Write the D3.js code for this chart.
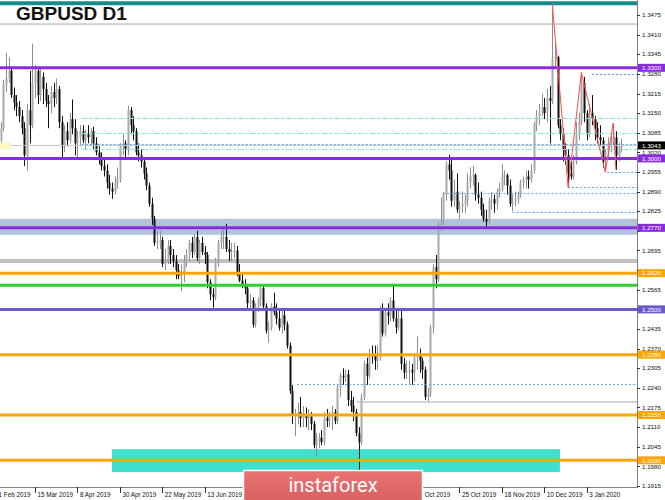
<!DOCTYPE html>
<html><head><meta charset="utf-8">
<script src="https://cdn.jsdelivr.net/npm/d3@7/dist/d3.min.js"></script>
<style>
html,body{margin:0;padding:0;background:#fff;}
svg{display:block;}
</style></head><body>
<svg id="c" width="665" height="500"></svg>
<script>
// ---------- DATA ----------
const firstIndex = 3; // bar index of first candle (index 0 = 21 Feb 2019)
const opens = [
1.3060,1.3100,1.3245,1.3265,1.3290,1.3210,1.3185,1.3170,1.3140,1.3100,
1.3010,1.3160,1.3110,1.3250,1.3290,1.3210,1.3270,1.3230,1.3190,1.3180,
1.3220,1.3200,1.3230,1.3120,1.3040,1.3090,1.3060,1.3130,1.3100,1.3050,
1.3070,1.3090,1.3060,1.3080,1.3070,1.3090,1.3050,1.3020,1.3000,1.2975,
1.2960,1.2920,1.2900,1.2890,1.2920,1.2930,1.3040,1.3050,1.3030,1.3160,
1.3110,1.3090,1.3020,1.3010,1.2990,1.2950,1.2910,1.2850,1.2800,1.2720,
1.2720,1.2730,1.2650,1.2660,1.2710,1.2680,1.2660,1.2630,1.2610,1.2620,
1.2660,1.2680,1.2720,1.2690,1.2740,1.2670,1.2720,1.2690,1.2680,1.2590,
1.2550,1.2540,1.2660,1.2720,1.2740,1.2740,1.2700,1.2690,1.2690,1.2695,
1.2620,1.2595,1.2580,1.2570,1.2520,1.2530,1.2450,1.2510,1.2530,1.2570,
1.2510,1.2430,1.2440,1.2510,1.2490,1.2470,1.2440,1.2480,1.2450,1.2380,
1.2230,1.2150,1.2155,1.2160,1.2140,1.2150,1.2140,1.2145,1.2120,1.2050,
1.2070,1.2075,1.2060,1.2140,1.2130,1.2150,1.2160,1.2130,1.2240,1.2280,
1.2275,1.2285,1.2200,1.2180,1.2160,1.2090,1.2060,1.2210,1.2320,1.2280,
1.2350,1.2345,1.2330,1.2340,1.2500,1.2420,1.2490,1.2480,1.2530,1.2470,
1.2440,1.2470,1.2320,1.2290,1.2295,1.2300,1.2290,1.2340,1.2350,1.2330,
1.2300,1.2210,1.2220,1.2440,1.2640,1.2600,1.2770,1.2790,1.2880,1.2980,
1.2960,1.2860,1.2890,1.2830,1.2840,1.2850,1.2860,1.2920,1.2940,1.2945,
1.2880,1.2870,1.2830,1.2800,1.2790,1.2860,1.2865,1.2850,1.2890,1.2900,
1.2940,1.2945,1.2910,1.2850,1.2860,1.2865,1.2880,1.2920,1.2930,1.2940,
1.2930,1.2960,1.3110,1.3140,1.3150,1.3170,1.3150,1.3200,1.3190,1.3330,
1.3335,1.3110,1.3080,1.3030,1.3010,1.2950,1.2940,1.2990,1.3080,1.3120,
1.3250,1.3150,1.3080,1.3150,1.3130,1.3100,1.3070,1.3060,1.2990,1.3020,
1.3040,1.3060,1.3070,1.3010,1.3040];
const highs = [
1.3120,1.3260,1.3350,1.3335,1.3300,1.3235,1.3210,1.3190,1.3160,1.3120,
1.3180,1.3290,1.3380,1.3310,1.3300,1.3300,1.3285,1.3250,1.3210,1.3240,
1.3250,1.3265,1.3240,1.3140,1.3110,1.3120,1.3150,1.3195,1.3130,1.3090,
1.3110,1.3110,1.3095,1.3110,1.3100,1.3105,1.3070,1.3040,1.3020,1.3000,
1.2980,1.2945,1.2920,1.2940,1.2970,1.3050,1.3080,1.3060,1.3175,1.3170,
1.3140,1.3100,1.3050,1.3030,1.3000,1.2970,1.2920,1.2870,1.2810,1.2760,
1.2760,1.2740,1.2700,1.2730,1.2730,1.2700,1.2680,1.2650,1.2650,1.2680,
1.2700,1.2730,1.2740,1.2750,1.2760,1.2730,1.2740,1.2710,1.2690,1.2600,
1.2570,1.2670,1.2730,1.2760,1.2770,1.2783,1.2730,1.2720,1.2720,1.2710,
1.2650,1.2620,1.2600,1.2580,1.2550,1.2540,1.2520,1.2540,1.2580,1.2580,
1.2520,1.2460,1.2520,1.2555,1.2520,1.2500,1.2500,1.2500,1.2460,1.2390,
1.2250,1.2170,1.2190,1.2210,1.2180,1.2175,1.2170,1.2160,1.2130,1.2090,
1.2090,1.2100,1.2160,1.2170,1.2160,1.2180,1.2170,1.2250,1.2290,1.2305,
1.2300,1.2300,1.2230,1.2210,1.2170,1.2110,1.2220,1.2330,1.2340,1.2370,
1.2380,1.2380,1.2380,1.2510,1.2520,1.2500,1.2520,1.2540,1.2582,1.2500,
1.2500,1.2500,1.2340,1.2330,1.2330,1.2320,1.2350,1.2410,1.2370,1.2340,
1.2310,1.2240,1.2450,1.2650,1.2680,1.2790,1.2870,1.2890,1.2990,1.3012,
1.3000,1.2930,1.2950,1.2860,1.2890,1.2880,1.2950,1.2970,1.2975,1.2950,
1.2920,1.2890,1.2850,1.2830,1.2870,1.2890,1.2880,1.2900,1.2920,1.2980,
1.2960,1.2950,1.2930,1.2880,1.2890,1.2890,1.2930,1.2940,1.2960,1.2960,
1.2980,1.3120,1.3160,1.3180,1.3215,1.3200,1.3230,1.3240,1.3514,1.3380,
1.3340,1.3130,1.3100,1.3050,1.3030,1.2990,1.3010,1.3120,1.3150,1.3284,
1.3270,1.3160,1.3180,1.3210,1.3140,1.3120,1.3110,1.3070,1.3030,1.3070,
1.3080,1.3117,1.3090,1.3050,1.3065];
const lows = [
1.3040,1.3090,1.3220,1.3250,1.3200,1.3160,1.3140,1.3120,1.3080,1.2975,
1.2960,1.3050,1.3100,1.3200,1.3180,1.3190,1.3180,1.3170,1.3100,1.3150,
1.3170,1.3180,1.3100,1.3000,1.3020,1.3040,1.3050,1.3080,1.3010,1.2995,
1.3040,1.3050,1.3030,1.3050,1.3040,1.3030,1.3010,1.2980,1.2960,1.2940,
1.2900,1.2880,1.2866,1.2880,1.2900,1.2920,1.3010,1.3000,1.3010,1.3080,
1.3060,1.3010,1.2990,1.2970,1.2930,1.2895,1.2840,1.2780,1.2710,1.2700,
1.2700,1.2640,1.2630,1.2650,1.2650,1.2640,1.2600,1.2600,1.2560,1.2590,
1.2640,1.2660,1.2670,1.2680,1.2660,1.2650,1.2680,1.2650,1.2570,1.2530,
1.2506,1.2530,1.2640,1.2700,1.2700,1.2690,1.2660,1.2660,1.2670,1.2610,
1.2590,1.2570,1.2550,1.2500,1.2500,1.2440,1.2440,1.2490,1.2510,1.2500,
1.2420,1.2390,1.2430,1.2480,1.2450,1.2430,1.2420,1.2430,1.2370,1.2220,
1.2120,1.2080,1.2120,1.2110,1.2110,1.2110,1.2100,1.2100,1.2040,1.2015,
1.2040,1.2050,1.2050,1.2110,1.2110,1.2100,1.2120,1.2120,1.2210,1.2250,
1.2260,1.2180,1.2160,1.2130,1.2080,1.1958,1.2050,1.2200,1.2250,1.2270,
1.2320,1.2300,1.2300,1.2330,1.2410,1.2410,1.2450,1.2460,1.2460,1.2420,
1.2430,1.2300,1.2270,1.2270,1.2250,1.2250,1.2260,1.2300,1.2290,1.2270,
1.2200,1.2195,1.2210,1.2420,1.2570,1.2590,1.2760,1.2780,1.2860,1.2930,
1.2840,1.2840,1.2820,1.2800,1.2820,1.2820,1.2840,1.2900,1.2910,1.2860,
1.2850,1.2810,1.2790,1.2770,1.2780,1.2830,1.2820,1.2830,1.2870,1.2890,
1.2910,1.2880,1.2840,1.2825,1.2840,1.2850,1.2870,1.2900,1.2900,1.2900,
1.2920,1.2950,1.3090,1.3110,1.3140,1.3130,1.3120,1.3050,1.3180,1.3300,
1.3100,1.3060,1.2990,1.2980,1.2904,1.2930,1.2930,1.2980,1.3060,1.3110,
1.3120,1.3060,1.3070,1.3110,1.3060,1.3050,1.3040,1.2970,1.2955,1.3000,
1.3020,1.3040,1.2962,1.2990,1.3020];
const closes = [
1.3100,1.3245,1.3265,1.3290,1.3210,1.3185,1.3170,1.3140,1.3100,1.3010,
1.3160,1.3110,1.3250,1.3290,1.3210,1.3270,1.3230,1.3190,1.3180,1.3220,
1.3200,1.3230,1.3120,1.3040,1.3090,1.3060,1.3130,1.3100,1.3050,1.3070,
1.3090,1.3060,1.3080,1.3070,1.3090,1.3050,1.3020,1.3000,1.2975,1.2960,
1.2920,1.2900,1.2890,1.2920,1.2930,1.3040,1.3050,1.3030,1.3160,1.3110,
1.3090,1.3020,1.3010,1.2990,1.2950,1.2910,1.2850,1.2800,1.2720,1.2720,
1.2730,1.2650,1.2660,1.2710,1.2680,1.2660,1.2630,1.2610,1.2620,1.2660,
1.2680,1.2720,1.2690,1.2740,1.2670,1.2720,1.2690,1.2680,1.2590,1.2550,
1.2540,1.2660,1.2720,1.2740,1.2740,1.2700,1.2690,1.2690,1.2695,1.2620,
1.2595,1.2580,1.2570,1.2520,1.2530,1.2450,1.2510,1.2530,1.2570,1.2510,
1.2430,1.2440,1.2510,1.2490,1.2470,1.2440,1.2480,1.2450,1.2380,1.2230,
1.2150,1.2155,1.2160,1.2140,1.2150,1.2140,1.2145,1.2120,1.2050,1.2070,
1.2075,1.2060,1.2140,1.2130,1.2150,1.2160,1.2130,1.2240,1.2280,1.2275,
1.2285,1.2200,1.2180,1.2160,1.2090,1.2060,1.2210,1.2320,1.2280,1.2350,
1.2345,1.2330,1.2340,1.2500,1.2420,1.2490,1.2480,1.2530,1.2470,1.2440,
1.2470,1.2320,1.2290,1.2295,1.2300,1.2290,1.2340,1.2350,1.2330,1.2300,
1.2210,1.2220,1.2440,1.2640,1.2600,1.2770,1.2790,1.2880,1.2980,1.2960,
1.2860,1.2890,1.2830,1.2840,1.2850,1.2860,1.2920,1.2940,1.2945,1.2880,
1.2870,1.2830,1.2800,1.2790,1.2860,1.2865,1.2850,1.2890,1.2900,1.2940,
1.2945,1.2910,1.2850,1.2860,1.2865,1.2880,1.2920,1.2930,1.2940,1.2930,
1.2960,1.3110,1.3140,1.3150,1.3170,1.3150,1.3200,1.3190,1.3330,1.3335,
1.3110,1.3080,1.3030,1.3010,1.2950,1.2940,1.2990,1.3080,1.3120,1.3250,
1.3150,1.3080,1.3150,1.3130,1.3100,1.3070,1.3060,1.2990,1.3020,1.3040,
1.3060,1.3070,1.3010,1.3040,1.3043];

const dateTickIndex = [0,16,32,48,64,80,96,112,128,144,160,176,192,208,224];
const dateTickLabels = ["21 Feb 2019","15 Mar 2019","8 Apr 2019","30 Apr 2019","22 May 2019","13 Jun 2019",
  "5 Jul 2019","29 Jul 2019","20 Aug 2019","11 Sep 2019","3 Oct 2019","25 Oct 2019","18 Nov 2019","10 Dec 2019","3 Jan 2020"];
const priceTicks = [1.1915,1.1980,1.2045,1.2110,1.2175,1.2240,1.2305,1.2370,1.2435,1.2500,1.2565,1.2630,
  1.2695,1.2760,1.2825,1.2890,1.2955,1.3020,1.3085,1.3150,1.3215,1.3280,1.3345,1.3410,1.3475];

const purpleLevels = [1.3300, 1.3000, 1.2770];
const slateLevels = [1.2500];
const orangeLevels = [1.2620, 1.2350, 1.2150, 1.2000];
const greenLevels = [1.2580];
const grayThickLevels = [1.2660];
const grayThinLevels = [1.3445];
const topTealLevels = [1.3514];
const bidPrice = 1.3043;
const blueBandPrices = [1.2800, 1.2747];
const tealZoneIdx = [45, 213.9];
const tealZonePrices = [1.2037, 1.1961];
const blueDotStart = [114.8, 226, 231.7, 217, 170, 196, 101.8, 33.6];
const blueDotPrice = [1.2253, 1.3280, 1.2955, 1.2905, 1.2885, 1.2822, 1.2584, 1.3049];
const tealDashStart = [33.6, 33.6, 33.6];
const tealDashPrice = [1.3134, 1.3085, 1.3031];
const grayRayStart = [137.3];
const grayRayPrice = [1.2193];
const zigIdx = [211, 217, 222, 231, 234, 235];
const zigPrice = [1.3514, 1.2904, 1.3284, 1.2955, 1.3117, 1.2962];

// ---------- CHART ----------
const W = 665, H = 500, plotR = 637, plotB = 487;
const svg = d3.select("#c");
const x = d3.scaleLinear().domain([0, 224]).range([-7.4, 586.7]);
const y = d3.scaleLinear().domain([1.1915, 1.3475]).range([486, 15]);
const FONT = "'Liberation Sans', Arial, sans-serif";

svg.append("rect").attr("width", W).attr("height", H).attr("fill", "#fff");
const defs = svg.append("defs");
defs.append("clipPath").attr("id", "plot")
  .append("rect").attr("x", 0).attr("y", 0).attr("width", plotR).attr("height", plotB);
const g = svg.append("g").attr("clip-path", "url(#plot)");

// background bands
g.append("rect").attr("x", 0).attr("width", plotR)
  .attr("y", y(blueBandPrices[0])).attr("height", y(blueBandPrices[1]) - y(blueBandPrices[0]))
  .attr("fill", "#b0c4de");
g.append("rect").attr("x", x(tealZoneIdx[0])).attr("width", x(tealZoneIdx[1]) - x(tealZoneIdx[0]))
  .attr("y", y(tealZonePrices[0])).attr("height", y(tealZonePrices[1]) - y(tealZonePrices[0]))
  .attr("fill", "#40e0d0");
g.selectAll(".gthick").data(grayThickLevels).join("line")
  .attr("x1", 0).attr("x2", plotR).attr("y1", d => y(d)).attr("y2", d => y(d))
  .attr("stroke", "#c0c0c0").attr("stroke-width", 4);

// candles
const bars = closes.map((c, i) => ({i: i + firstIndex, o: opens[i], h: highs[i], l: lows[i], c: c}));
const cg = g.append("g");
cg.selectAll("line.w").data(bars).join("line").attr("class", "w")
  .attr("x1", d => Math.round(x(d.i)) + 0.5).attr("x2", d => Math.round(x(d.i)) + 0.5)
  .attr("y1", d => y(d.h)).attr("y2", d => y(d.l))
  .attr("stroke", d => d.c >= d.o ? "#8f8f8f" : "#111").attr("stroke-width", 1);
cg.selectAll("rect.b").data(bars).join("rect").attr("class", "b")
  .attr("x", d => Math.round(x(d.i)) - 0.5).attr("width", 2)
  .attr("y", d => y(Math.max(d.o, d.c)))
  .attr("height", d => Math.max(1, Math.abs(y(d.o) - y(d.c))))
  .attr("fill", d => d.c >= d.o ? "#a9a9a9" : "#111");

// level lines
function levels(arr, color, w) {
  g.append("g").selectAll("line").data(arr).join("line")
    .attr("x1", 0).attr("x2", plotR).attr("y1", d => y(d)).attr("y2", d => y(d))
    .attr("stroke", color).attr("stroke-width", w);
}
levels(grayThinLevels, "#a8a8a8", 1);
levels(topTealLevels, "#138c8c", 4);
levels([bidPrice], "#c8c8c8", 1);
g.append("rect").attr("x", 0).attr("y", y(bidPrice) - 3).attr("width", 11).attr("height", 7).attr("fill", "#fff6c8");

// rays
g.append("g").selectAll("line").data(grayRayStart).join("line")
  .attr("x1", d => x(d)).attr("x2", plotR)
  .attr("y1", (d, k) => y(grayRayPrice[k])).attr("y2", (d, k) => y(grayRayPrice[k]))
  .attr("stroke", "#c4c4c4").attr("stroke-width", 1.5);
g.append("g").selectAll("line").data(tealDashStart).join("line")
  .attr("x1", d => x(d)).attr("x2", plotR)
  .attr("y1", (d, k) => Math.round(y(tealDashPrice[k])) + 0.5).attr("y2", (d, k) => Math.round(y(tealDashPrice[k])) + 0.5)
  .attr("stroke", "#7fe8d8").attr("stroke-width", 1).attr("stroke-dasharray", "6,2,2,2");
g.append("g").selectAll("line").data(blueDotStart).join("line")
  .attr("x1", d => x(d)).attr("x2", plotR)
  .attr("y1", (d, k) => Math.round(y(blueDotPrice[k])) + 0.5).attr("y2", (d, k) => Math.round(y(blueDotPrice[k])) + 0.5)
  .attr("stroke", "#5aa8f0").attr("stroke-width", 1).attr("stroke-dasharray", "2,2");

levels(greenLevels, "#32cd32", 3);
levels(orangeLevels, "#ffa500", 3);
levels(slateLevels, "#6a5acd", 3);
levels(purpleLevels, "#8a2be2", 3);

// zigzag
g.append("path").datum(zigIdx.map((v, k) => [v, zigPrice[k]]))
  .attr("d", d3.line().x(d => x(d[0])).y(d => y(d[1])))
  .attr("fill", "none").attr("stroke", "#ff4a4a").attr("stroke-width", 1);

// axes frame
svg.append("line").attr("x1", plotR + 0.5).attr("x2", plotR + 0.5).attr("y1", 0).attr("y2", plotB + 1)
  .attr("stroke", "#808080");
svg.append("line").attr("x1", 0).attr("x2", plotR + 1).attr("y1", plotB + 0.5).attr("y2", plotB + 0.5)
  .attr("stroke", "#808080");

// right price axis (tick labels hidden under a level box are not drawn, as in the reference)
const boxedPrices = purpleLevels.concat(slateLevels, orangeLevels, [bidPrice]);
const ax = svg.append("g");
ax.selectAll("line").data(priceTicks).join("line")
  .attr("x1", plotR).attr("x2", plotR + 3).attr("y1", d => Math.round(y(d)) + 0.5).attr("y2", d => Math.round(y(d)) + 0.5)
  .attr("stroke", "#333");
const visibleTicks = priceTicks.filter(t => boxedPrices.every(b => Math.abs(y(t) - y(b)) >= 6));
ax.selectAll("text").data(visibleTicks).join("text")
  .attr("x", plotR + 5).attr("y", d => y(d)).attr("dy", "0.35em")
  .attr("font-family", FONT).attr("font-size", 6.2).attr("fill", "#111")
  .text(d => d.toFixed(4));

// price label boxes
function boxes(arr, color) {
  const bg = svg.append("g").selectAll("g").data(arr).join("g");
  bg.append("rect").attr("x", plotR + 1).attr("y", d => y(d) - 4).attr("width", 28).attr("height", 8).attr("fill", color);
  bg.append("text").attr("x", plotR + 5).attr("y", d => y(d)).attr("dy", "0.35em")
    .attr("font-family", FONT).attr("font-size", 6.2).attr("fill", "#fff").text(d => d.toFixed(4));
}
boxes(purpleLevels, "#8a2be2");
boxes(slateLevels, "#6a5acd");
boxes(orangeLevels, "#ffa500");
boxes([bidPrice], "#000");

// banner extent (date labels fully hidden behind it are not drawn)
const bannerX0 = 243.5, bannerX1 = 422.5;

// date axis
const dx = svg.append("g");
dx.selectAll("line").data(dateTickIndex).join("line")
  .attr("x1", d => Math.round(x(d)) + 0.5).attr("x2", d => Math.round(x(d)) + 0.5)
  .attr("y1", plotB).attr("y2", plotB + 6).attr("stroke", "#333");
const dateItems = dateTickIndex.map((d, k) => ({i: d, label: dateTickLabels[k]}))
  .filter(d => !(x(d.i) > bannerX0 - 2 && x(d.i) + 36 < bannerX1 + 2));
dx.selectAll("text").data(dateItems).join("text")
  .attr("x", d => x(d.i) + 2.5).attr("y", plotB + 9.5)
  .attr("font-family", FONT).attr("font-size", 6.3).attr("fill", "#111")
  .text(d => d.label);

// title
svg.append("text").attr("x", 16).attr("y", 19.5)
  .attr("font-family", FONT).attr("font-weight", "bold").attr("font-size", 19).attr("fill", "#111")
  .text("GBPUSD D1");

// instaforex banner
const grad = defs.append("linearGradient").attr("id", "bn").attr("x1", 0).attr("x2", 0).attr("y1", 0).attr("y2", 1);
grad.append("stop").attr("offset", "0%").attr("stop-color", "#e97373");
grad.append("stop").attr("offset", "100%").attr("stop-color", "#d65f5f");
svg.append("rect").attr("x", bannerX0).attr("y", 470.5).attr("width", bannerX1 - bannerX0).attr("height", 34)
  .attr("fill", "url(#bn)").attr("stroke", "#fff").attr("stroke-width", 1.5);
svg.append("text").attr("x", 333).attr("y", 492).attr("text-anchor", "middle")
  .attr("font-family", "Roboto, 'Open Sans', sans-serif").attr("font-size", 20).attr("fill", "#fff")
  .text("instaforex");
</script>
</body></html>
